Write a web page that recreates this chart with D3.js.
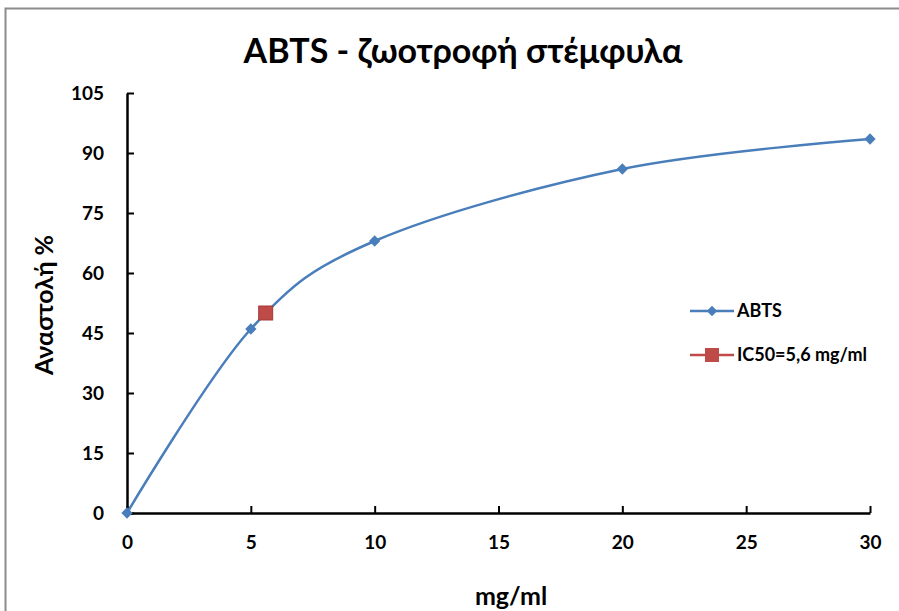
<!DOCTYPE html>
<html><head><meta charset="utf-8">
<script src="https://cdn.jsdelivr.net/npm/d3@7"></script>
<style>body{margin:0;background:#fff}svg{display:block}</style>
</head><body>
<svg id="c" width="899" height="611"></svg>
<script>
const xValues = [0, 5, 10, 20, 30];
const abtsValues = [0, 46, 68, 86, 93.5];
const ic50X = [5.6];
const ic50Y = [50];
const xTicks = [0, 5, 10, 15, 20, 25, 30];
const yTicks = [0, 15, 30, 45, 60, 75, 90, 105];
const seriesNames = ["ABTS", "IC50=5,6 mg/ml"];
const title = "ABTS - ζωοτροφή στέμφυλα";
const xLabel = "mg/ml";
const yLabel = "Αναστολή %";

const svg = d3.select("#c");
const font = "Lato, 'Open Sans', 'Noto Sans', sans-serif";
const blue = "#4a7ebb", red = "#be4b48";

svg.append("path").attr("d","M5.5,611V8.5H899").attr("fill","none")
  .attr("stroke","#8c8c8c").attr("stroke-width",2);

const x = d3.scaleLinear().domain([0,30]).range([127,870]);
const y = d3.scaleLinear().domain([0,105]).range([513,93]);

svg.append("text").attr("x",463).attr("y",63).attr("text-anchor","middle")
  .attr("font-family",font).attr("font-weight","bold").attr("font-size",34).attr("fill","#000")
  .text(title);

const gx = svg.append("g").attr("transform","translate(0,513)")
  .call(d3.axisBottom(x).tickValues(xTicks).tickSize(-7).tickSizeOuter(0).tickPadding(23));
const gy = svg.append("g").attr("transform","translate(127,0)")
  .call(d3.axisLeft(y).tickValues(yTicks).tickSize(-7).tickSizeOuter(0).tickPadding(23));
[gx,gy].forEach(g=>{
  g.select(".domain").attr("stroke","#000").attr("stroke-width",2.5);
  g.selectAll(".tick line").attr("stroke","#000").attr("stroke-width",2);
  g.selectAll(".tick text").attr("font-family",font).attr("font-weight","bold").attr("font-size",19).attr("fill","#000");
});
gy.selectAll(".tick text").attr("dy","0.35em");

svg.append("text").attr("x",511).attr("y",605).attr("text-anchor","middle")
  .attr("font-family",font).attr("font-weight","bold").attr("font-size",25).text(xLabel);
svg.append("text").attr("transform","translate(53,305) rotate(-90)").attr("text-anchor","middle")
  .attr("font-family",font).attr("font-weight","bold").attr("font-size",25).text(yLabel);

const pts = xValues.map((v,i)=>[v,abtsValues[i]]);
const line = d3.line().x(d=>x(d[0])).y(d=>y(d[1])).curve(d3.curveCardinal.tension(0));
svg.append("path").attr("d",line(pts)).attr("fill","none").attr("stroke",blue).attr("stroke-width",2.5);

svg.selectAll(".pt").data(pts).enter().append("path")
  .attr("d",d3.symbol().type(d3.symbolSquare).size(64)).attr("fill",blue)
  .attr("transform",d=>`translate(${x(d[0])},${y(d[1])}) rotate(45)`);

const icPts = ic50X.map((v,i)=>[v,ic50Y[i]]);
svg.selectAll(".ic").data(icPts).enter().append("rect")
  .attr("x",d=>x(d[0])-7).attr("y",d=>y(d[1])-7).attr("width",14).attr("height",14)
  .attr("fill",red).attr("stroke","#a33a37").attr("stroke-width",1);

// legend
const lg = svg.append("g");
const legY = [311, 355];
seriesNames.forEach((n,i)=>{
  const col = i===0?blue:red;
  lg.append("line").attr("x1",690).attr("x2",734).attr("y1",legY[i]).attr("y2",legY[i]).attr("stroke",col).attr("stroke-width",2.5);
  if(i===0){
    lg.append("path").attr("transform",`translate(712,${legY[i]}) rotate(45)`).attr("d",d3.symbol().type(d3.symbolSquare).size(56)).attr("fill",blue);
  } else {
    lg.append("rect").attr("x",705).attr("y",legY[i]-7).attr("width",14).attr("height",14).attr("fill",red);
  }
  lg.append("text").attr("x",737).attr("y",legY[i]).attr("dy","0.35em")
    .attr("font-family",font).attr("font-weight","bold").attr("font-size",18).text(n);
});
</script>
</body></html>
